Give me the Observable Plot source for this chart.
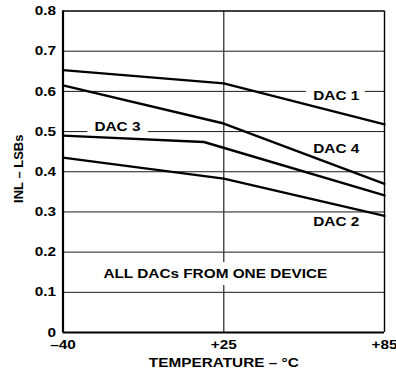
<!DOCTYPE html>
<html>
<head>
<meta charset="utf-8">
<script src="https://cdn.jsdelivr.net/npm/d3@7"></script>
<script src="https://cdn.jsdelivr.net/npm/@observablehq/plot@0.6"></script>
<style>
  html, body { margin: 0; padding: 0; background: #fff; }
  #chart svg { display: block; overflow: visible; }
</style>
</head>
<body>
<div id="chart"></div>
<script>
// ---- data ----
const seriesNames = ["DAC 1", "DAC 4", "DAC 3", "DAC 2"];
const dac1Temp = [-40, 25, 85];
const dac1Inl  = [0.653, 0.620, 0.518];
const dac4Temp = [-40, 25, 85];
const dac4Inl  = [0.615, 0.520, 0.370];
const dac3Temp = [-40, 17, 85];
const dac3Inl  = [0.490, 0.474, 0.341];
const dac2Temp = [-40, 25, 85];
const dac2Inl  = [0.435, 0.383, 0.290];

const xTicks = [-40, 25, 85];
const xTickLabels = ["\u201340", "+25", "+85"];
const yTicks = [0, 0.1, 0.2, 0.3, 0.4, 0.5, 0.6, 0.7, 0.8];
const yTickLabels = ["0", "0.1", "0.2", "0.3", "0.4", "0.5", "0.6", "0.7", "0.8"];
const gridY = [0.1, 0.2, 0.3, 0.4, 0.5, 0.6, 0.7];
const gridX = [25];

// label annotations (text, temperature, INL)
const labelText = ["DAC 1", "DAC 4", "DAC 3", "DAC 2", "ALL DACs FROM ONE DEVICE"];
const labelTemp = [67, 67, -18, 67, 21.6];
const labelInl  = [0.589, 0.458, 0.511, 0.276, 0.147];
const labelHalo = [true, false, true, false, true];

// ---- build tables ----
const rows = [];
[[dac1Temp, dac1Inl, "DAC 1"], [dac4Temp, dac4Inl, "DAC 4"], [dac3Temp, dac3Inl, "DAC 3"], [dac2Temp, dac2Inl, "DAC 2"]]
  .forEach(([t, v, name]) => t.forEach((tt, i) => rows.push({series: name, temp: tt, inl: v[i]})));
const labels = labelText.map((s, i) => ({text: s, temp: labelTemp[i], inl: labelInl[i], halo: labelHalo[i]}));

const W = 396, H = 375;
const mL = 62.5, mR = 12, mT = 10.5, mB = 43;
const font = "'Liberation Sans', Arial, Helvetica, sans-serif";

const chart = Plot.plot({
  width: W, height: H,
  marginLeft: mL, marginRight: mR, marginTop: mT, marginBottom: mB,
  style: {fontFamily: font, fontSize: "13px", fontWeight: "bold", color: "#000", background: "#fff"},
  x: {type: "linear", domain: [-40, 25, 85], range: [mL, (mL + W - mR) / 2, W - mR]},
  y: {domain: [0, 0.8]},
  marks: [
    Plot.ruleY(gridY, {stroke: "#1a1a1a", strokeWidth: 1}),
    Plot.ruleX(gridX, {stroke: "#444", strokeWidth: 1.4}),
    Plot.text(labels.filter(d => d.halo), {x: "temp", y: "inl", text: "text", fill: "#000", stroke: "#fff", strokeWidth: 14, paintOrder: "stroke", fontSize: 13, fontWeight: "bold"}),
    Plot.text(labels.filter(d => !d.halo), {x: "temp", y: "inl", text: "text", fill: "#000", fontSize: 13, fontWeight: "bold"}),
    Plot.line(rows, {x: "temp", y: "inl", z: "series", stroke: "#000", strokeWidth: 2.4}),
    Plot.ruleY([0.8], {stroke: "#000", strokeWidth: 1.4}),
    Plot.ruleX([85], {stroke: "#000", strokeWidth: 1.4}),
    Plot.ruleY([0], {stroke: "#000", strokeWidth: 2.2}),
    Plot.ruleX([-40], {stroke: "#000", strokeWidth: 2.2}),
    Plot.axisX({ticks: xTicks, tickFormat: (d) => xTickLabels[xTicks.indexOf(d)], tickSize: 0, tickPadding: 7, label: null, fontSize: 13}),
    Plot.axisY({ticks: yTicks, tickFormat: d => yTickLabels[yTicks.findIndex(v => Math.abs(v - d) < 1e-9)], tickSize: 0, tickPadding: 7, label: null, fontSize: 13}),
    Plot.text(["TEMPERATURE \u2013 \u00B0C"], {frameAnchor: "bottom", text: d => d, dy: 30, lineAnchor: "middle", textAnchor: "middle", fontSize: 13, fontWeight: "bold"}),
    Plot.text(["INL \u2013 LSBs"], {frameAnchor: "left", text: d => d, rotate: -90, dx: -44, dy: -3, lineAnchor: "middle", textAnchor: "middle", fontSize: 13, fontWeight: "bold"})
  ]
});
document.getElementById("chart").appendChild(chart);

// stretch horizontal text to match reference proportions
chart.querySelectorAll("text").forEach(t => {
  if (t.textContent.includes("INL")) return;
  const w = t.getComputedTextLength();
  if (w > 0) {
    t.setAttribute("textLength", (w * 1.18).toFixed(2));
    t.setAttribute("lengthAdjust", "spacingAndGlyphs");
  }
});
</script>
</body>
</html>
